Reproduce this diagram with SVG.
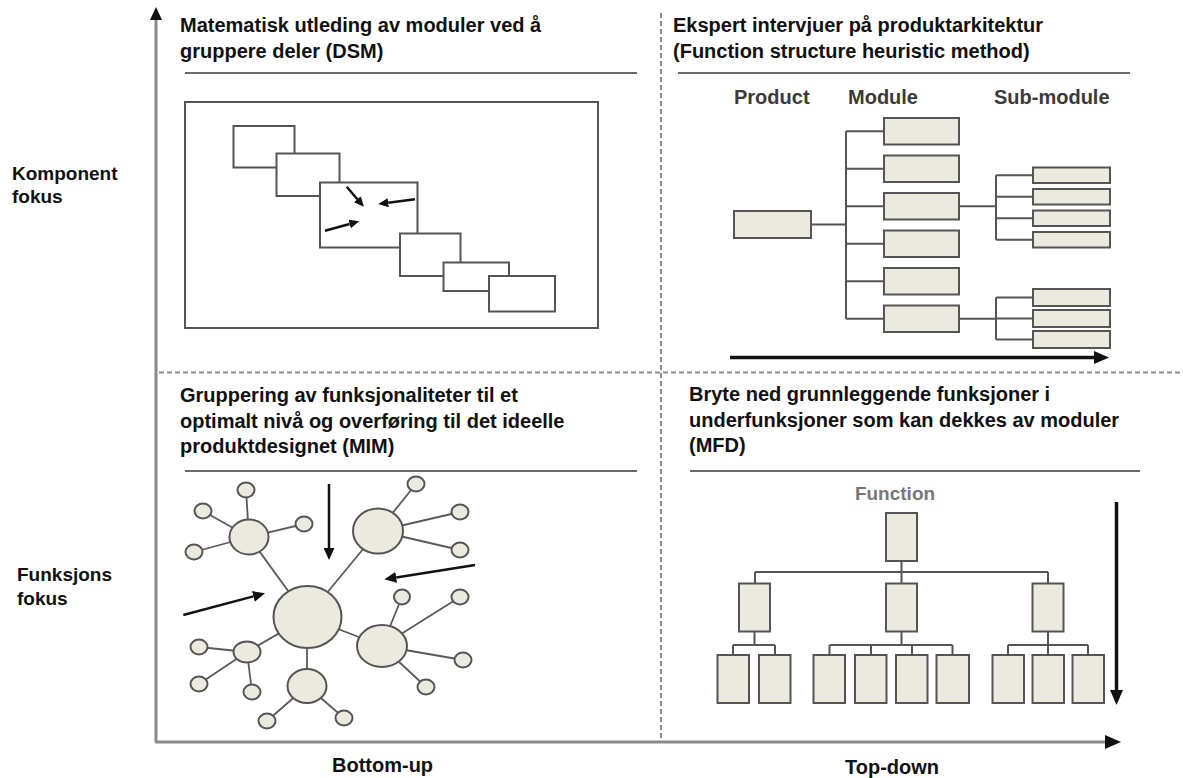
<svg xmlns="http://www.w3.org/2000/svg" width="1183" height="778" viewBox="0 0 1183 778">
  <style>
    .title { font-family: "Liberation Sans", Arial, sans-serif; font-weight: bold; font-size: 20px; fill: #111; }
    .axislabel { font-family: "Liberation Sans", Arial, sans-serif; font-weight: bold; font-size: 19px; fill: #111; }
    .hdr { font-family: "Liberation Sans", Arial, sans-serif; font-weight: bold; font-size: 20px; fill: #3a3a3a; }
    .fnlabel { font-family: "Liberation Sans", Arial, sans-serif; font-weight: bold; font-size: 19px; fill: #777; }
    .rule { stroke: #6a6a6a; stroke-width: 2; fill: none; }
    .dash { stroke: #8c8c8c; stroke-width: 2; stroke-dasharray: 5 3; fill: none; }
    .axis { stroke: #8a8a8a; stroke-width: 3; fill: none; }
    .frame { fill: #fff; stroke: #555; stroke-width: 2; }
    .box { fill: #ecE9df; stroke: #555; stroke-width: 2; }
    .link { stroke: #555; stroke-width: 2; fill: none; }
    .edge { stroke: #5a5a5a; stroke-width: 1.8; fill: none; }
    .arrow { stroke: #111; stroke-width: 2.5; fill: none; }
    .bigarrow { stroke: #111; stroke-width: 3.5; fill: none; }
  </style>
  <defs>
    <marker id="axisHead" markerUnits="userSpaceOnUse" markerWidth="16" markerHeight="14" refX="0" refY="7" orient="auto">
      <path d="M0,0 L16,7 L0,14 z" fill="#111"/>
    </marker>
    <marker id="vAxisHead" markerUnits="userSpaceOnUse" markerWidth="13" markerHeight="12" refX="0" refY="6" orient="auto">
      <path d="M0,0 L13,6 L0,12 z" fill="#111"/>
    </marker>
    <marker id="head" markerUnits="userSpaceOnUse" markerWidth="12" markerHeight="11" refX="0" refY="5.5" orient="auto">
      <path d="M0,0 L12,5.5 L0,11 z" fill="#111"/>
    </marker>
    <marker id="smallHead" markerUnits="userSpaceOnUse" markerWidth="10" markerHeight="9" refX="0" refY="4.5" orient="auto">
      <path d="M0,0 L10,4.5 L0,9 z" fill="#111"/>
    </marker>
    <marker id="bigHead" markerUnits="userSpaceOnUse" markerWidth="15" markerHeight="13" refX="0" refY="6.5" orient="auto">
      <path d="M0,0 L15,6.5 L0,13 z" fill="#111"/>
    </marker>
  </defs>

  <rect width="1183" height="778" fill="#fff"/>

  <!-- quadrant dividers -->
  <g id="dividers">
    <line class="dash" x1="159" y1="372.5" x2="1183" y2="372.5"/>
    <line class="dash" x1="661" y1="13" x2="661" y2="738"/>
  </g>

  <!-- axes -->
  <g id="axes">
    <line class="axis" x1="156" y1="742" x2="156" y2="20" marker-end="url(#vAxisHead)"/>
    <line class="axis" x1="155" y1="742" x2="1105" y2="742" marker-end="url(#axisHead)"/>
    <text class="axislabel" x="12" y="180">Komponent</text>
    <text class="axislabel" x="12" y="203">fokus</text>
    <text class="axislabel" x="17" y="581">Funksjons</text>
    <text class="axislabel" x="17" y="605">fokus</text>
    <text class="title" x="332" y="772">Bottom-up</text>
    <text class="title" x="845" y="774">Top-down</text>
  </g>

  <!-- DSM quadrant -->
  <g id="dsm">
    <text class="title" x="180" y="32">Matematisk utleding av moduler ved å</text>
    <text class="title" x="180" y="58">gruppere deler (DSM)</text>
    <line class="rule" x1="185" y1="73" x2="637" y2="73"/>
    <rect class="frame" x="185" y="102" width="413" height="226"/>
    <rect class="frame" x="233.5" y="126" width="61" height="41.5"/>
    <rect class="frame" x="276.5" y="153.5" width="63" height="42.5"/>
    <rect class="frame" x="320" y="182.5" width="97.5" height="65"/>
    <rect class="frame" x="400" y="233.5" width="60.5" height="42.5"/>
    <rect class="frame" x="443.5" y="262.5" width="65.5" height="28.5"/>
    <rect class="frame" x="489" y="276" width="66" height="35.5"/>
    <line class="arrow" x1="346.7" y1="186.7" x2="357.4" y2="199.2" marker-end="url(#smallHead)"/>
    <line class="arrow" x1="415" y1="199.3" x2="388.2" y2="202.8" marker-end="url(#smallHead)"/>
    <line class="arrow" x1="325" y1="230.7" x2="349.6" y2="224" marker-end="url(#smallHead)"/>
  </g>

  <!-- Function structure heuristic quadrant -->
  <g id="fsh">
    <text class="title" x="673" y="32">Ekspert intervjuer på produktarkitektur</text>
    <text class="title" x="673" y="58">(Function structure heuristic method)</text>
    <line class="rule" x1="678" y1="73" x2="1130" y2="73"/>
    <text class="hdr" x="734" y="104">Product</text>
    <text class="hdr" x="848" y="104">Module</text>
    <text class="hdr" x="994" y="104">Sub-module</text>

    <g id="fsh-links">
      <line class="link" x1="811" y1="224.5" x2="846" y2="224.5" stroke-width="3"/>
      <line class="link" x1="846" y1="131.25" x2="846" y2="318.75"/>
      <line class="link" x1="846" y1="131.25" x2="884" y2="131.25"/>
      <line class="link" x1="846" y1="168.75" x2="884" y2="168.75"/>
      <line class="link" x1="846" y1="206.25" x2="884" y2="206.25"/>
      <line class="link" x1="846" y1="243.75" x2="884" y2="243.75"/>
      <line class="link" x1="846" y1="281.25" x2="884" y2="281.25"/>
      <line class="link" x1="846" y1="318.75" x2="884" y2="318.75"/>
      <line class="link" x1="959" y1="206.25" x2="996" y2="206.25"/>
      <line class="link" x1="996" y1="175.25" x2="996" y2="239.75"/>
      <line class="link" x1="996" y1="175.25" x2="1033" y2="175.25"/>
      <line class="link" x1="996" y1="196.75" x2="1033" y2="196.75"/>
      <line class="link" x1="996" y1="218.25" x2="1033" y2="218.25"/>
      <line class="link" x1="996" y1="239.75" x2="1033" y2="239.75"/>
      <line class="link" x1="959" y1="318.75" x2="996" y2="318.75"/>
      <line class="link" x1="996" y1="297.5" x2="996" y2="339.5"/>
      <line class="link" x1="996" y1="297.5" x2="1033" y2="297.5"/>
      <line class="link" x1="996" y1="318.5" x2="1033" y2="318.5"/>
      <line class="link" x1="996" y1="339.5" x2="1033" y2="339.5"/>
    </g>

    <rect id="product" class="box" x="734" y="211" width="77" height="27"/>
    <g id="modules">
      <rect class="box" x="884" y="118" width="75" height="26.5"/>
      <rect class="box" x="884" y="155.5" width="75" height="26.5"/>
      <rect class="box" x="884" y="193" width="75" height="26.5"/>
      <rect class="box" x="884" y="230.5" width="75" height="26.5"/>
      <rect class="box" x="884" y="268" width="75" height="26.5"/>
      <rect class="box" x="884" y="305.5" width="75" height="26.5"/>
    </g>
    <g id="submodules">
      <rect class="box" x="1033" y="167.5" width="77" height="15.5"/>
      <rect class="box" x="1033" y="189" width="77" height="15.5"/>
      <rect class="box" x="1033" y="210.5" width="77" height="15.5"/>
      <rect class="box" x="1033" y="232" width="77" height="15.5"/>
      <rect class="box" x="1033" y="289" width="77" height="17"/>
      <rect class="box" x="1033" y="310" width="77" height="17"/>
      <rect class="box" x="1033" y="331" width="77" height="17"/>
    </g>
    <line class="bigarrow" x1="730" y1="357.5" x2="1094" y2="357.5" marker-end="url(#bigHead)"/>
  </g>

  <!-- MIM quadrant -->
  <g id="mim">
    <text class="title" x="180" y="402">Gruppering av funksjonaliteter til et</text>
    <text class="title" x="180" y="428">optimalt nivå og overføring til det ideelle</text>
    <text class="title" x="180" y="453">produktdesignet (MIM)</text>
    <line class="rule" x1="185" y1="471" x2="637" y2="471"/>

    <g id="mim-edges">
      <line class="edge" x1="249" y1="537" x2="307" y2="617"/>
      <line class="edge" x1="378" y1="531" x2="307" y2="617"/>
      <line class="edge" x1="382" y1="646" x2="307" y2="617"/>
      <line class="edge" x1="307" y1="686" x2="307" y2="617"/>
      <line class="edge" x1="247" y1="652" x2="307" y2="617"/>
      <line class="edge" x1="249" y1="537" x2="246" y2="490"/>
      <line class="edge" x1="249" y1="537" x2="203" y2="511"/>
      <line class="edge" x1="249" y1="537" x2="304" y2="524"/>
      <line class="edge" x1="249" y1="537" x2="194" y2="552"/>
      <line class="edge" x1="378" y1="531" x2="416" y2="484"/>
      <line class="edge" x1="378" y1="531" x2="460" y2="512"/>
      <line class="edge" x1="378" y1="531" x2="460" y2="550"/>
      <line class="edge" x1="382" y1="646" x2="402" y2="597"/>
      <line class="edge" x1="382" y1="646" x2="460" y2="597"/>
      <line class="edge" x1="382" y1="646" x2="463" y2="660"/>
      <line class="edge" x1="382" y1="646" x2="426" y2="687"/>
      <line class="edge" x1="247" y1="652" x2="199" y2="647"/>
      <line class="edge" x1="247" y1="652" x2="199" y2="684"/>
      <line class="edge" x1="247" y1="652" x2="252" y2="692"/>
      <line class="edge" x1="307" y1="686" x2="267" y2="721"/>
      <line class="edge" x1="307" y1="686" x2="344" y2="718"/>
    </g>

    <g id="mim-nodes">
      <ellipse class="box" cx="307.5" cy="617" rx="34" ry="31"/>
      <ellipse class="box" cx="249" cy="537" rx="19.5" ry="17.5"/>
      <ellipse class="box" cx="378" cy="531" rx="25" ry="22.5"/>
      <ellipse class="box" cx="382" cy="646" rx="25" ry="21"/>
      <ellipse class="box" cx="307" cy="686" rx="19.5" ry="17"/>
      <ellipse class="box" cx="247" cy="652" rx="13.5" ry="10.5"/>
      <ellipse class="box" cx="246" cy="490" rx="8.5" ry="7.5"/>
      <ellipse class="box" cx="203" cy="511" rx="8.5" ry="7.5"/>
      <ellipse class="box" cx="304" cy="524" rx="8.5" ry="7.5"/>
      <ellipse class="box" cx="194" cy="552" rx="8.5" ry="7.5"/>
      <ellipse class="box" cx="416" cy="484" rx="8.5" ry="7.5"/>
      <ellipse class="box" cx="460" cy="512" rx="8.5" ry="7.5"/>
      <ellipse class="box" cx="460" cy="550" rx="8.5" ry="7.5"/>
      <ellipse class="box" cx="402" cy="597" rx="8" ry="7.5"/>
      <ellipse class="box" cx="460" cy="597" rx="8.5" ry="7.5"/>
      <ellipse class="box" cx="463" cy="660" rx="8.5" ry="7.5"/>
      <ellipse class="box" cx="426" cy="687" rx="8.5" ry="7.5"/>
      <ellipse class="box" cx="199" cy="647" rx="8.5" ry="7.5"/>
      <ellipse class="box" cx="199" cy="684" rx="8.5" ry="7.5"/>
      <ellipse class="box" cx="252" cy="692" rx="8.5" ry="7.5"/>
      <ellipse class="box" cx="267" cy="721" rx="8.5" ry="7.5"/>
      <ellipse class="box" cx="344" cy="718" rx="8.5" ry="7.5"/>
    </g>

    <line class="arrow" x1="329" y1="484" x2="329" y2="548" marker-end="url(#head)"/>
    <line class="arrow" x1="475" y1="565" x2="396.2" y2="577.4" marker-end="url(#head)"/>
    <line class="arrow" x1="183.3" y1="615" x2="253.4" y2="596.4" marker-end="url(#head)"/>
  </g>

  <!-- MFD quadrant -->
  <g id="mfd">
    <text class="title" x="689" y="401">Bryte ned grunnleggende funksjoner i</text>
    <text class="title" x="689" y="427">underfunksjoner som kan dekkes av moduler</text>
    <text class="title" x="689" y="452">(MFD)</text>
    <line class="rule" x1="690" y1="471" x2="1140" y2="471"/>
    <text class="fnlabel" x="895" y="500" text-anchor="middle">Function</text>

    <g id="mfd-links">
      <line class="link" x1="901.5" y1="561" x2="901.5" y2="583" stroke-width="3"/>
      <line class="link" x1="755" y1="572" x2="1048" y2="572"/>
      <line class="link" x1="755" y1="572" x2="755" y2="583"/>
      <line class="link" x1="1048" y1="572" x2="1048" y2="583"/>
      <line class="link" x1="754.5" y1="631.5" x2="754.5" y2="645" stroke-width="3"/>
      <line class="link" x1="733" y1="645" x2="775" y2="645"/>
      <line class="link" x1="733" y1="645" x2="733" y2="655"/>
      <line class="link" x1="775" y1="645" x2="775" y2="655"/>
      <line class="link" x1="901.5" y1="631.5" x2="901.5" y2="645" stroke-width="3"/>
      <line class="link" x1="829.5" y1="645" x2="952.5" y2="645"/>
      <line class="link" x1="829.5" y1="645" x2="829.5" y2="655"/>
      <line class="link" x1="871" y1="645" x2="871" y2="655"/>
      <line class="link" x1="912" y1="645" x2="912" y2="655"/>
      <line class="link" x1="952.5" y1="645" x2="952.5" y2="655"/>
      <line class="link" x1="1048" y1="631.5" x2="1048" y2="645" stroke-width="3"/>
      <line class="link" x1="1008" y1="645" x2="1088" y2="645"/>
      <line class="link" x1="1008" y1="645" x2="1008" y2="655"/>
      <line class="link" x1="1048" y1="645" x2="1048" y2="655"/>
      <line class="link" x1="1088" y1="645" x2="1088" y2="655"/>
    </g>

    <rect id="fn-root" class="box" x="886" y="513" width="31" height="48"/>
    <g id="fn-sub">
      <rect class="box" x="739" y="583.5" width="31" height="48"/>
      <rect class="box" x="886" y="583.5" width="31" height="48"/>
      <rect class="box" x="1032.5" y="583.5" width="31" height="48"/>
    </g>
    <g id="fn-leaves">
      <rect class="box" x="717.5" y="655" width="31.5" height="48"/>
      <rect class="box" x="759" y="655" width="31.5" height="48"/>
      <rect class="box" x="813.5" y="655" width="31.5" height="48"/>
      <rect class="box" x="855" y="655" width="31.5" height="48"/>
      <rect class="box" x="896" y="655" width="31.5" height="48"/>
      <rect class="box" x="936.5" y="655" width="32.5" height="48"/>
      <rect class="box" x="992.5" y="655" width="31.5" height="48"/>
      <rect class="box" x="1032.5" y="655" width="31.5" height="48"/>
      <rect class="box" x="1072.5" y="655" width="31.5" height="48"/>
    </g>
    <line class="bigarrow" x1="1116.5" y1="502" x2="1116.5" y2="690" stroke-width="3" marker-end="url(#bigHead)"/>
  </g>
</svg>
